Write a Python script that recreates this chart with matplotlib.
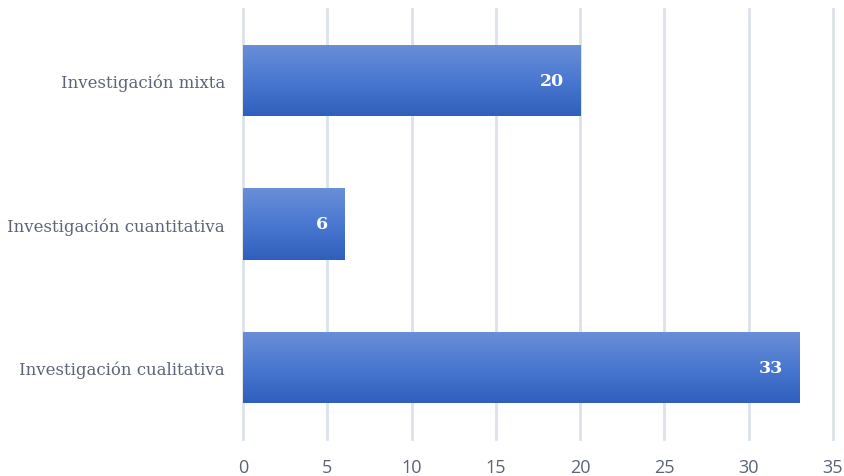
import matplotlib
matplotlib.use("Agg")
import matplotlib.pyplot as plt
import numpy as np
from matplotlib.colors import LinearSegmentedColormap

categories = ["Investigación cualitativa", "Investigación cuantitativa", "Investigación mixta"]
values = [33, 6, 20]
xticks = [0, 5, 10, 15, 20, 25, 30, 35]

fig = plt.figure(figsize=(8.45, 4.77), dpi=100)
ax = fig.add_axes([243/845, 37/477, 590/845, 430/477])

ypos = np.arange(len(categories))
bars = ax.barh(ypos, values, height=0.5, color="none", edgecolor="none", zorder=3)

cmap = LinearSegmentedColormap.from_list("g", ["#2f5fbd", "#4a78d0", "#6a8fd8"])
grad = np.linspace(0, 1, 256).reshape(-1, 1)
for b in bars:
    x0, y0 = b.get_x(), b.get_y()
    w, h = b.get_width(), b.get_height()
    im = ax.imshow(grad, cmap=cmap, aspect="auto", origin="lower",
                   interpolation="bilinear",
                   extent=[x0, x0 + w, y0, y0 + h], zorder=2)
    im.set_clip_path(b)

for y, v in zip(ypos, values):
    ax.annotate(str(v), xy=(v, y), xytext=(-11.5, 0), textcoords="offset points",
                ha="right", va="center", color="white", fontsize=12.5,
                fontweight="bold", family="DejaVu Serif", zorder=4)

ax.set_xlim(0, 35)
ax.set_ylim(-0.5, 2.5)
ax.set_xticks(xticks)
ax.set_xticklabels([str(t) for t in xticks], family="Open Sans", fontsize=13, color="#5b6477")
ax.set_yticks(ypos)
ax.set_yticklabels(categories, family="DejaVu Serif", fontsize=11.85, color="#5b6477")
ax.tick_params(axis="both", length=0)
ax.tick_params(axis="x", pad=14)
ax.tick_params(axis="y", pad=13)
ax.grid(axis="x", color="#dde1e9", linewidth=2, zorder=0)
for gl in ax.get_xgridlines():
    gl.set_clip_on(False)
ax.set_axisbelow(True)
for s in ax.spines.values():
    s.set_visible(False)

fig.savefig("out.png", dpi=100)
